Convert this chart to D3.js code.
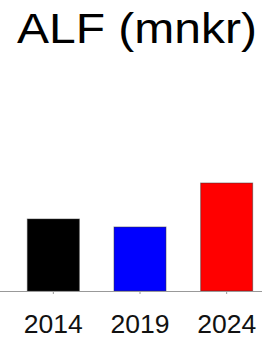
<!DOCTYPE html>
<html lang="sv">
<head>
    <meta charset="UTF-8">
    <script src="https://d3js.org/d3.v7.min.js"></script>
    <style>
        body {
            margin: 0;
            background: #fff;
            font-family: "Liberation Sans", Arial, sans-serif;
        }
    </style>
</head>
<body>
    <div id="chart"></div>
    <script>
        const years = ["2014", "2019", "2024"];
        const values = [72, 64, 108];
        const colors = ["#000000", "#0000ff", "#ff0000"];
        const title = "ALF (mnkr)";

        const width = 262, height = 337;
        const baseY = 291;

        const svg = d3.select("#chart").append("svg")
            .attr("width", width)
            .attr("height", height);

        // titel
        svg.append("text")
            .attr("x", 137)
            .attr("y", 43)
            .attr("text-anchor", "middle")
            .attr("font-size", 42)
            .attr("textLength", 240)
            .attr("lengthAdjust", "spacingAndGlyphs")
            .attr("fill", "#000")
            .text(title);

        const x = d3.scaleBand()
            .domain(years)
            .range([10, 270])
            .paddingInner(0.4)
            .paddingOuter(0.2);

        const y = d3.scaleLinear()
            .domain([0, 150])
            .range([baseY, baseY - 150]);

        // staplar
        svg.selectAll("rect.bar")
            .data(years.map((yr, i) => ({ yr, v: values[i], c: colors[i] })))
            .enter().append("rect")
            .attr("class", "bar")
            .attr("x", d => x(d.yr))
            .attr("y", d => y(d.v))
            .attr("width", x.bandwidth())
            .attr("height", d => y(0) - y(d.v))
            .attr("fill", d => d.c)
            .attr("stroke", "#333")
            .attr("stroke-opacity", 0.5)
            .attr("stroke-width", 1);

        // x-axel
        const ax = svg.append("g")
            .attr("transform", `translate(0,${baseY})`)
            .call(d3.axisBottom(x).tickSize(3).tickPadding(21).tickSizeOuter(0));

        ax.select(".domain").remove();
        ax.insert("line", ":first-child")
            .attr("x1", 0).attr("x2", width)
            .attr("y1", 0.5).attr("y2", 0.5)
            .attr("stroke", "#999");
        ax.selectAll(".tick line").attr("stroke", "#999");
        ax.selectAll(".tick text")
            .attr("font-size", 25)
            .attr("font-family", "Liberation Sans, Arial, sans-serif")
            .attr("fill", "#111")
            .attr("textLength", 59)
            .attr("lengthAdjust", "spacingAndGlyphs");
    </script>
</body>
</html>
